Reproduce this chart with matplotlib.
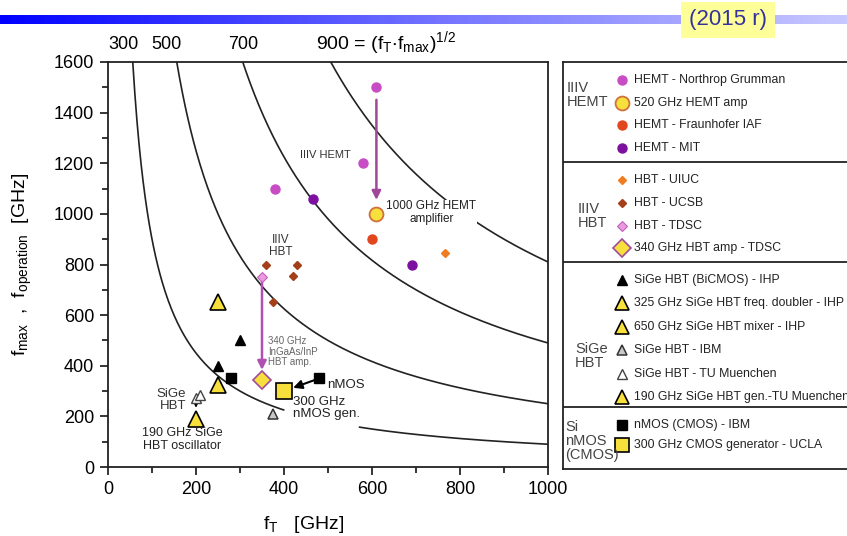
import numpy as np
import matplotlib.pyplot as plt
from matplotlib.ticker import MultipleLocator
from matplotlib.colors import LinearSegmentedColormap

plt.rcParams['font.family'] = ['Liberation Sans', 'DejaVu Sans']
plt.rcParams['mathtext.fontset'] = 'custom'
plt.rcParams['mathtext.rm'] = 'Liberation Sans'
plt.rcParams['mathtext.default'] = 'regular'

# --- data (f_T, f_max in GHz)
const_lines = [300, 500, 700, 900]          # (fT*fmax)^0.5
gap_300 = (400, 570)                         # label gap in the 300 curve

ng_ft, ng_fmax = [610, 380, 580], [1500, 1100, 1200]
hemt520_ft, hemt520_fmax = [610], [1000]
iaf_ft, iaf_fmax = [600], [900]
mit_ft, mit_fmax = [465, 690], [1060, 800]
uiuc_ft, uiuc_fmax = [765], [845]
ucsb_ft, ucsb_fmax = [360, 430, 420, 375], [800, 800, 755, 650]
tdsc_ft, tdsc_fmax = [350], [750]
hbt340_ft, hbt340_fmax = [350], [345]
ihp_ft, ihp_fmax = [300, 250], [500, 400]
ihp325_ft, ihp325_fmax = [250], [325]
ihp650_ft, ihp650_fmax = [250], [650]
ibm_ft, ibm_fmax = [375], [210]
tum_ft, tum_fmax = [200, 210], [272, 285]
tum190_ft, tum190_fmax = [200], [190]
nmos_ft, nmos_fmax = [280, 480], [350, 350]
ucla_ft, ucla_fmax = [400], [300]

YEL = '#f7e03c'
series = [
    ("HEMT - Northrop Grumman", ng_ft, ng_fmax, dict(marker='o', ms=6.5, mfc='#c84cc4', mec='#c84cc4')),
    ("520 GHz HEMT amp", hemt520_ft, hemt520_fmax, dict(marker='o', ms=10, mfc=YEL, mec='#d0703c', mew=1.3)),
    ("HEMT - Fraunhofer IAF", iaf_ft, iaf_fmax, dict(marker='o', ms=6.5, mfc='#e2461e', mec='#e2461e')),
    ("HEMT - MIT", mit_ft, mit_fmax, dict(marker='o', ms=6.5, mfc='#7d10a0', mec='#7d10a0')),
    ("HBT - UIUC", uiuc_ft, uiuc_fmax, dict(marker='D', ms=4.5, mfc='#f07d22', mec='#f07d22')),
    ("HBT - UCSB", ucsb_ft, ucsb_fmax, dict(marker='D', ms=4.5, mfc='#a3401a', mec='#a3401a')),
    ("HBT - TDSC", tdsc_ft, tdsc_fmax, dict(marker='D', ms=5.5, mfc='#eb9ae0', mec='#c060b8', mew=0.8)),
    ("340 GHz HBT amp - TDSC", hbt340_ft, hbt340_fmax, dict(marker='D', ms=9, mfc=YEL, mec='#a04c9c', mew=1.2)),
    ("SiGe HBT (BiCMOS) - IHP", ihp_ft, ihp_fmax, dict(marker='^', ms=7, mfc='black', mec='black')),
    ("325 GHz SiGe HBT freq. doubler - IHP", ihp325_ft, ihp325_fmax, dict(marker='^', ms=12, mfc=YEL, mec='black', mew=1.2)),
    ("650 GHz SiGe HBT mixer - IHP", ihp650_ft, ihp650_fmax, dict(marker='^', ms=12, mfc=YEL, mec='black', mew=1.2)),
    ("SiGe HBT - IBM", ibm_ft, ibm_fmax, dict(marker='^', ms=7, mfc='#c8c8c8', mec='#333333', mew=1.1)),
    ("SiGe HBT - TU Muenchen", tum_ft, tum_fmax, dict(marker='^', ms=6.5, mfc='white', mec='#444444', mew=1.0)),
    ("190 GHz SiGe HBT gen.-TU Muenchen", tum190_ft, tum190_fmax, dict(marker='^', ms=12, mfc=YEL, mec='black', mew=1.2)),
    ("nMOS (CMOS) - IBM", nmos_ft, nmos_fmax, dict(marker='s', ms=7, mfc='black', mec='black')),
    ("300 GHz CMOS generator - UCLA", ucla_ft, ucla_fmax, dict(marker='s', ms=11, mfc=YEL, mec='black', mew=1.2)),
]
groups = ["IIIV\nHEMT", "IIIV\nHBT", "SiGe\nHBT", "Si\nnMOS\n(CMOS)"]
group_sizes = [4, 4, 6, 2]

W, H = 847, 536
fig = plt.figure(figsize=(W / 100, H / 100), dpi=100)
fig.patch.set_facecolor('white')

# --- header bar and year tag
hax = fig.add_axes([0, 1 - 24 / H, 1, 9 / H])
hax.imshow(np.linspace(0, 1, 256)[None, :], aspect='auto',
           cmap=LinearSegmentedColormap.from_list('hb', ['#0000ff', '#7070ff', '#c8c8ff']))
hax.axis('off')
fig.text(728 / W, 1 - 20 / H, "(2015 r)", fontsize=16, color='#333399', ha='center', va='center',
         bbox=dict(boxstyle='square,pad=0.35', fc='#ffff99', ec='none'))

# --- main axes
ax = fig.add_axes([108 / W, 1 - 467 / H, 440 / W, 405 / H])
ax.set_xlim(0, 1000)
ax.set_ylim(0, 1600)

for c in const_lines:
    ft = np.linspace(c ** 2 / 1600, 1000, 400)
    fm = c ** 2 / ft
    if c == 300:
        fm = np.where((ft > gap_300[0]) & (ft < gap_300[1]), np.nan, fm)
    ax.plot(ft, fm, color='#222222', lw=1.2, zorder=1)

# top labels of the constant-f lines
top_x = [36, 132, 307]
for x, c in zip(top_x, const_lines[:3]):
    ax.text(x, 1.032, str(c), transform=ax.get_xaxis_transform(), fontsize=13, ha='center', va='baseline')
ax.text(473, 1.032, "900 = (f$_T$$\\cdot$f$_{max}$)$^{1/2}$", transform=ax.get_xaxis_transform(),
        fontsize=14, ha='left', va='baseline')

# arrows between related points
arrow_kw = dict(arrowstyle='-|>', mutation_scale=13)
ax.annotate('', xy=(hemt520_ft[0], hemt520_fmax[0]), xytext=(ng_ft[0], ng_fmax[0]),
            arrowprops=dict(color='#a04898', lw=1.8, shrinkA=9, shrinkB=10, **arrow_kw), zorder=2)
ax.annotate('', xy=(hbt340_ft[0], hbt340_fmax[0]), xytext=(tdsc_ft[0], tdsc_fmax[0]),
            arrowprops=dict(color='#b050b0', lw=1.8, shrinkA=3, shrinkB=7, **arrow_kw), zorder=2)
ax.annotate('', xy=(ucla_ft[0], ucla_fmax[0]), xytext=(nmos_ft[1], nmos_fmax[1]),
            arrowprops=dict(color='black', lw=1.5, shrinkA=4, shrinkB=7, **arrow_kw), zorder=2)
ax.annotate('', xy=(tum190_ft[0], tum190_fmax[0]), xytext=(tum_ft[0], tum_fmax[0]),
            arrowprops=dict(color='black', lw=1.2, shrinkA=3, shrinkB=8, arrowstyle='-|>', mutation_scale=9), zorder=2)

for label, xs, ys, st in series:
    ax.plot(xs, ys, ls='none', zorder=3, **st)

# in-plot annotations
ax.text(495, 1232, "IIIV HEMT", fontsize=8, color='#333333', ha='center', va='center')
ax.text(735, 1005, "1000 GHz HEMT\namplifier", fontsize=8.5, color='#222222', ha='center', va='center',
        linespacing=1.1, bbox=dict(boxstyle='square,pad=0.05', fc='white', ec='none'), zorder=2)
ax.text(393, 873, "IIIV\nHBT", fontsize=8.5, color='#333333', ha='center', va='center', linespacing=1.1)
ax.text(364, 455, "340 GHz\nInGaAs/InP\nHBT amp.", fontsize=7, color='#666666', ha='left', va='center',
        linespacing=1.05)
ax.text(497, 322, "nMOS", fontsize=9.5, color='#222222', ha='left', va='center')
ax.text(420, 232, "300 GHz\nnMOS gen.", fontsize=9.5, color='#222222', ha='left', va='center', linespacing=1.05)
ax.text(178, 265, "SiGe\nHBT", fontsize=9.5, color='#333333', ha='right', va='center', linespacing=1.05,
        multialignment='right')
ax.text(168, 107, "190 GHz SiGe\nHBT oscillator", fontsize=9, color='#222222', ha='center', va='center',
        linespacing=1.1)

ax.xaxis.set_major_locator(MultipleLocator(200))
ax.xaxis.set_minor_locator(MultipleLocator(100))
ax.yaxis.set_major_locator(MultipleLocator(200))
ax.yaxis.set_minor_locator(MultipleLocator(100))
ax.tick_params(which='major', direction='out', length=6, width=1.1, labelsize=13, pad=4)
ax.tick_params(which='minor', direction='out', length=4, width=1.1)
for s in ax.spines.values():
    s.set_linewidth(1.3)
    s.set_color('#222222')

ax.set_ylabel("f$_{max}$  ,  f$_{operation}$  [GHz]", fontsize=14, labelpad=14)
ax.set_xlabel("f$_T$   [GHz]", fontsize=14, labelpad=12)
ax.xaxis.set_label_coords(0.445, -0.115)

# --- legend panel (coordinates in figure pixels)
lax = fig.add_axes([563 / W, 1 - 469 / H, 310 / W, 407 / H])
lax.set_xlim(563, 873)
lax.set_ylim(469, 62)
lax.set_xticks([])
lax.set_yticks([])
for s in lax.spines.values():
    s.set_linewidth(1.3)
    s.set_color('#222222')

sec_top = [62, 162, 262, 407]
sec_step = [22.7, 22.8, 23.4, 19.5]
grp_x = [567, 578, 575, 565]
grp_y = [95, 216, 356, 441]
k = 0
for g, (name, n) in enumerate(zip(groups, group_sizes)):
    if g > 0:
        lax.axhline(sec_top[g], color='#222222', lw=1.3)
    lax.text(grp_x[g], grp_y[g], name, fontsize=10.5, color='#444444', ha='left', va='center',
             linespacing=1.0)
    for i in range(n):
        label, xs, ys, st = series[k]
        y = sec_top[g] + 18 + i * sec_step[g]
        st2 = dict(st)
        st2['ms'] = min(st['ms'], 10)
        lax.plot([622], [y], ls='none', **st2)
        lax.text(634, y, label, fontsize=8.8, color='#222222', ha='left', va='center')
        k += 1

fig.savefig('out.png', dpi=100, facecolor='white')
